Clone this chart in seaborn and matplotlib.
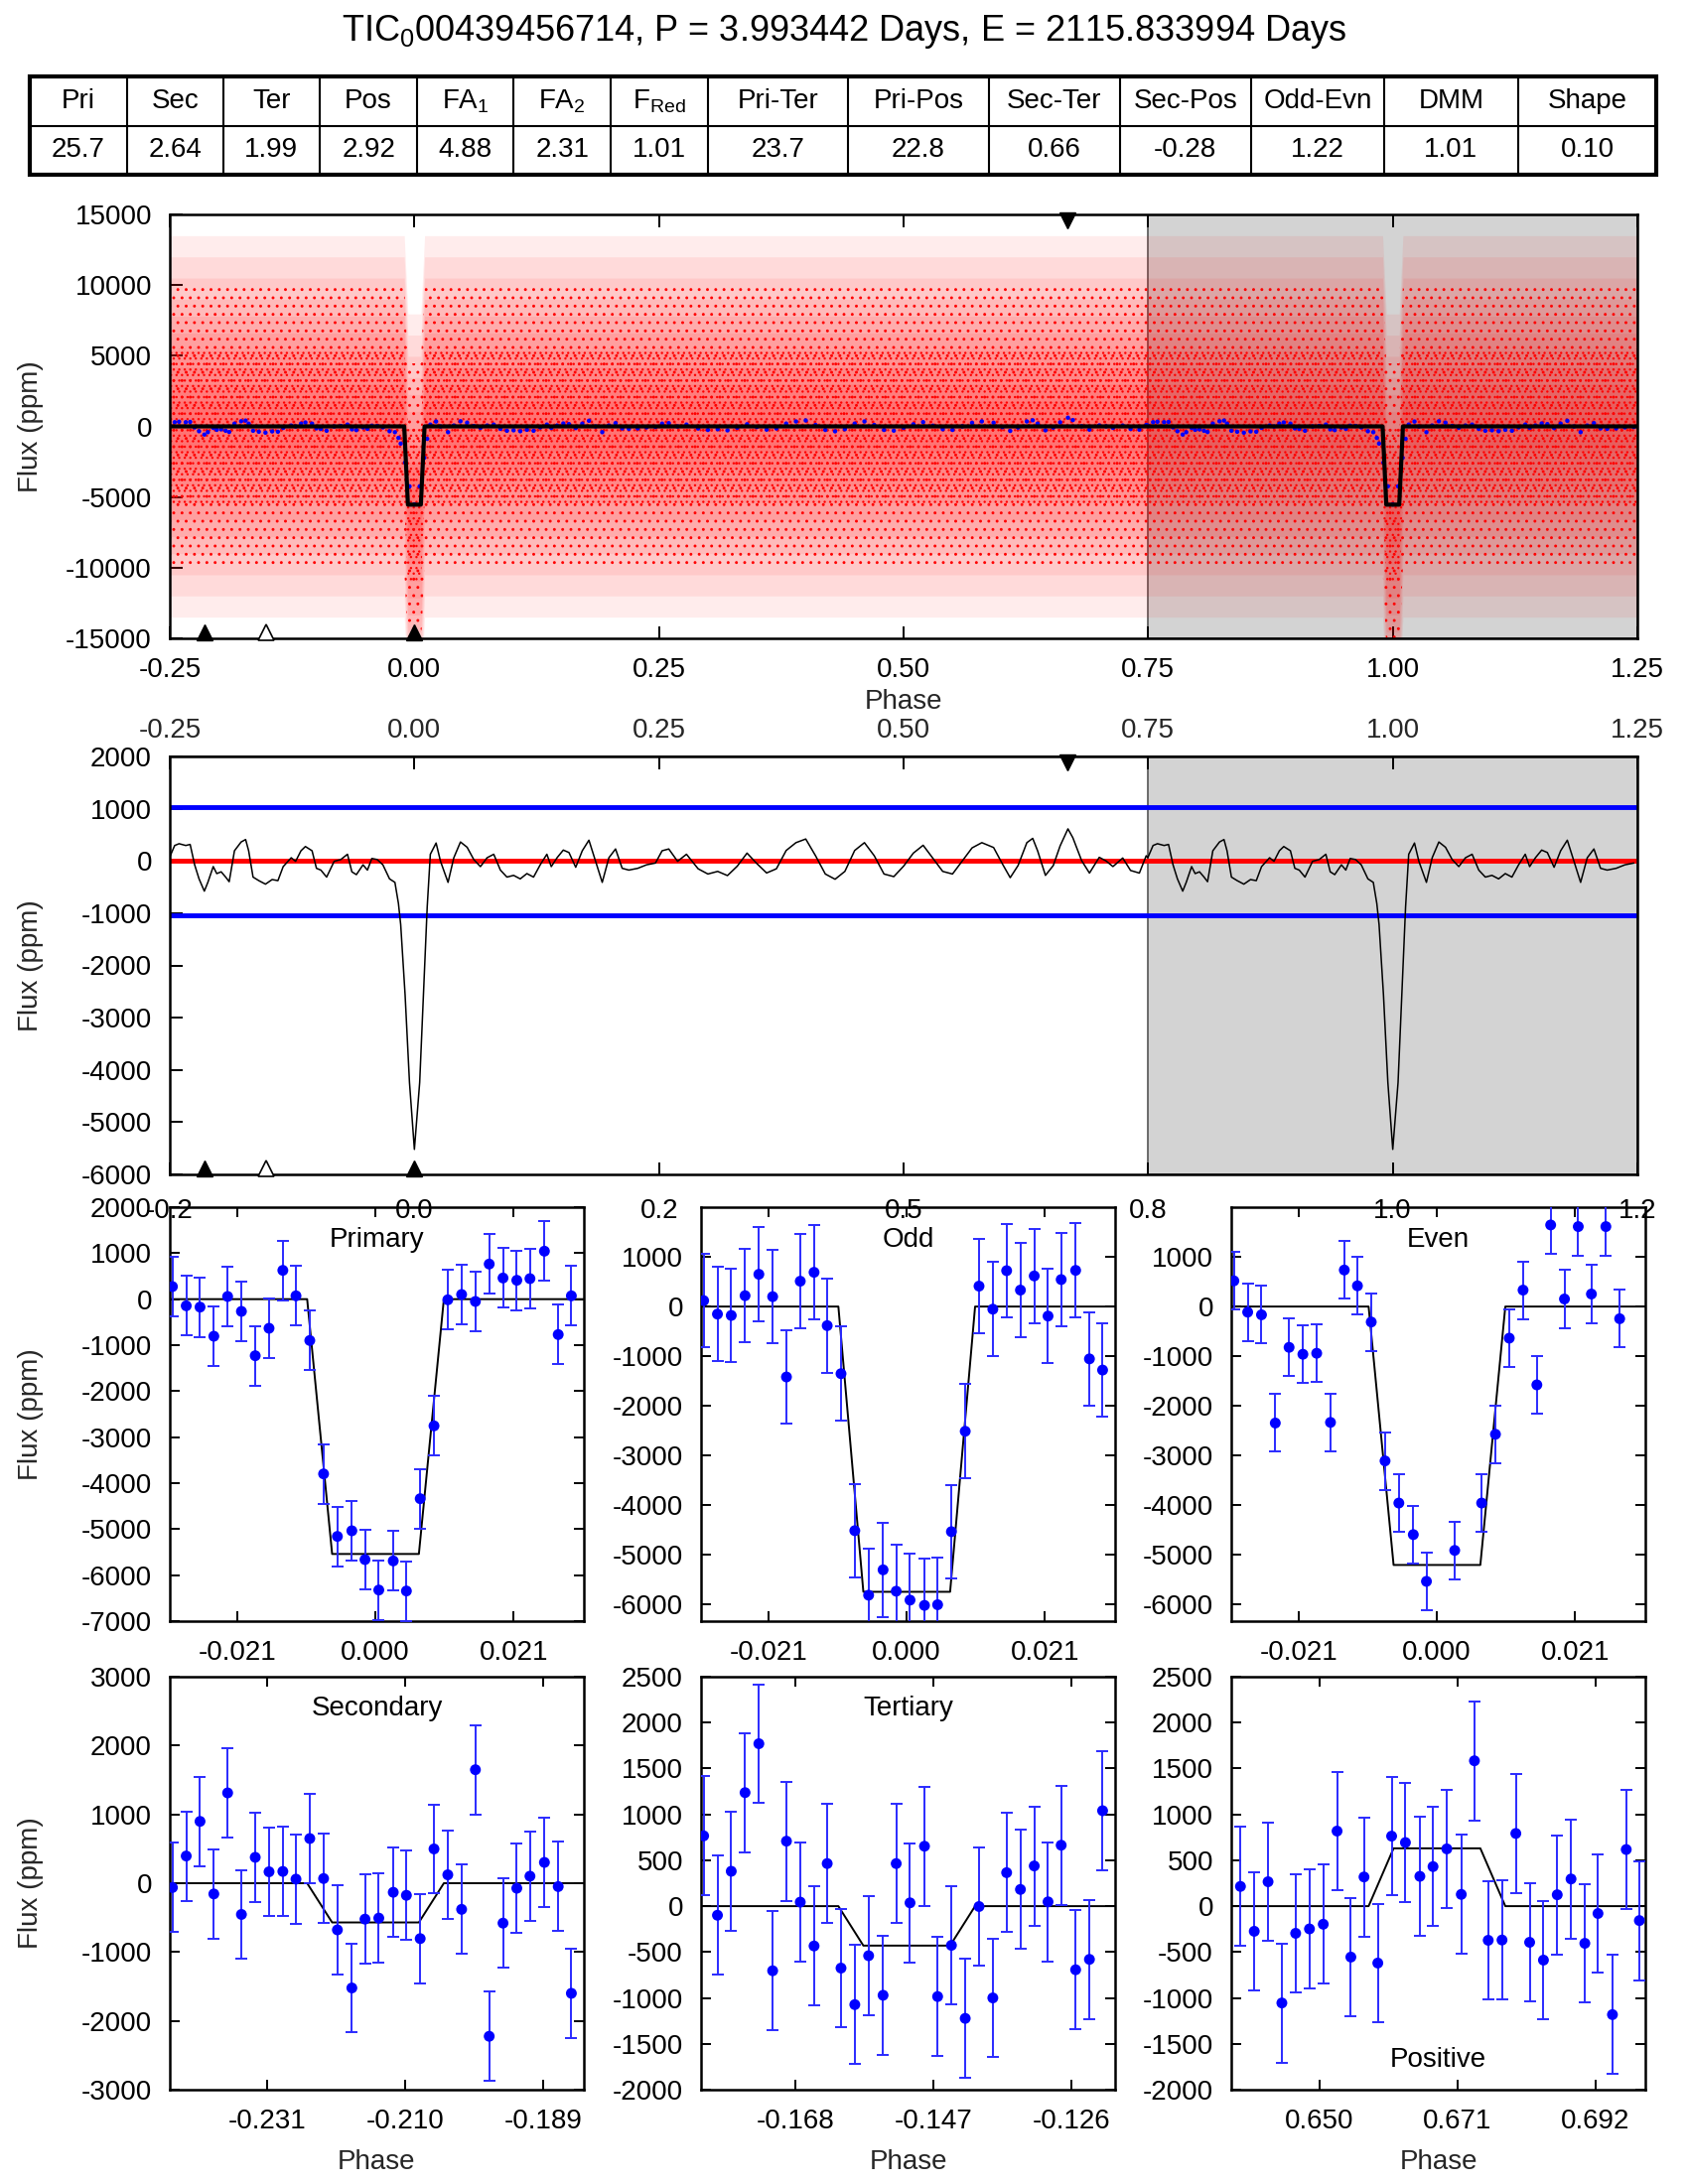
# %%
import numpy as np
import pandas as pd
import matplotlib
matplotlib.use("Agg")
import matplotlib.pyplot as plt
import seaborn as sns

# %%
# values
title = r"TIC$_0$00439456714, P = 3.993442 Days, E = 2115.833994 Days"

table_heads = ['Pri', 'Sec', 'Ter', 'Pos', 'FA$_1$', 'FA$_2$', 'F$_{Red}$', 'Pri-Ter', 'Pri-Pos',
               'Sec-Ter', 'Sec-Pos', 'Odd-Evn', 'DMM', 'Shape']
table_vals = ['25.7', '2.64', '1.99', '2.92', '4.88', '2.31', '1.01', '23.7', '22.8',
              '0.66', '-0.28', '1.22', '1.01', '0.10']

# event phases (triangle markers)
pri_phase = 0.0
sec_phase = -0.2145
ter_phase = -0.1511
pos_phase = 0.6679

# trapezoid model: ingress/egress phase offsets from event centre
model_edges = [-0.0104, -0.0066, 0.0066, 0.0104]
pri_depth = -5540
odd_depth = -5740
even_depth = -5200
sec_depth = -570
ter_depth = -430
pos_depth = 630

# smoothed flux curve (panel 2), phase -0.25 .. 0.75
curve_phase = [-0.2504, -0.2450, -0.2405, -0.2337, -0.2292, -0.2246, -0.2201, -0.2147, -0.2111, -0.2056,
               -0.2020, -0.1975, -0.1929, -0.1893, -0.1839, -0.1771, -0.1725, -0.1694, -0.1649, -0.1590,
               -0.1522, -0.1454, -0.1395, -0.1341, -0.1259, -0.1214, -0.1159, -0.1114, -0.1046, -0.1001,
               -0.0956, -0.0897, -0.0820, -0.0752, -0.0684, -0.0639, -0.0593, -0.0525, -0.0480, -0.0435,
               -0.0380, -0.0322, -0.0254, -0.0199, -0.0163, -0.0140, -0.0095, -0.0050, 0.0000, 0.0054,
               0.0100, 0.0131, 0.0163, 0.0222, 0.0267, 0.0344, 0.0403, 0.0471, 0.0539, 0.0607,
               0.0675, 0.0743, 0.0811, 0.0879, 0.0946, 0.1014, 0.1082, 0.1150, 0.1218, 0.1286,
               0.1354, 0.1399, 0.1458, 0.1522, 0.1580, 0.1649, 0.1716, 0.1784, 0.1852, 0.1920,
               0.1988, 0.2056, 0.2124, 0.2192, 0.2283, 0.2373, 0.2464, 0.2532, 0.2600, 0.2690,
               0.2781, 0.290, 0.300, 0.310, 0.320, 0.330, 0.340, 0.350, 0.360, 0.370,
               0.380, 0.390, 0.400, 0.410, 0.420, 0.430, 0.440, 0.450, 0.460, 0.470,
               0.480, 0.490, 0.500, 0.510, 0.520, 0.530, 0.540, 0.550, 0.560, 0.570,
               0.580, 0.592, 0.601, 0.609, 0.617, 0.626, 0.632, 0.637, 0.645, 0.653,
               0.660, 0.668, 0.673, 0.682, 0.690, 0.700, 0.707, 0.714, 0.724, 0.732,
               0.741, 0.748]
curve_flux = [61, 296, 330, 296, 316, -74, -343, -578, -410, -108,
              -242, -208, -309, -397, 195, 363, 410, 195, -309, -377,
              -444, -356, -377, -108, 61, -7, 195, 276, 195, -141,
              -175, -309, -7, 27, 128, -208, -262, -74, -175, 47,
              27, -74, -343, -410, -814, -1217, -2562, -4243, -5521, -4243,
              -2226, -881, 128, 343, -7, -410, 61, 363, 262, 27,
              -108, 61, 128, -175, -309, -276, -343, -242, -309, -74,
              128, -108, 61, 208, 161, -121, 195, 397, -7, -410,
              61, 229, -141, -175, -141, -74, -40, 195, 229, -7,
              128, -150, -250, -200, -280, -100, 150, -50, -230, -150,
              200, 350, 420, 100, -250, -350, -200, 200, 350, 100,
              -250, -300, -100, 150, 300, 50, -200, -250, 0, 250,
              350, 257, -56, -320, -88, 350, 432, 194, -276, -88,
              288, 614, 445, 6, -232, 69, 0, -107, 56, -182,
              -232, 100]
sigma_band = 1040  # blue lines in panel 2

# spread of the raw photometry cloud (panel 1): nested half widths in ppm
cloud_half = [13500, 12000, 10500, 9000, 7800, 6600, 5400, 4200, 3000, 1800]
cloud_alpha = 0.075
# speckle layers of the same cloud: (half width, hatch)
speckle = [(10000, '..'), (5500, '...')]

# binned points: phase offsets of the 30 bins from the window centre
bin_offset = [-0.0309, -0.0288, -0.0267, -0.0246, -0.0225, -0.0204, -0.0183, -0.0162, -0.0141, -0.0121,
              -0.0100, -0.0079, -0.0058, -0.0036, -0.0016, 0.0005, 0.0027, 0.0047, 0.0068, 0.0089,
              0.0110, 0.0131, 0.0152, 0.0173, 0.0194, 0.0215, 0.0235, 0.0257, 0.0278, 0.0298]
pos_bin_centre = 0.6689

pri_flux = [273, -144, -173, -806, 58, -266, -1230, -633, 626, 72,
            -899, -3799, -5158, -5036, -5662, -6324, -5691, -6345, -4338, -2755,
            -14, 101, -50, 763, 460, 410, 446, 1043, -770, 72]
odd_flux = [119, -152, -179, 219, 649, 199, -1417, 510, 689, -384,
            -1351, -4510, -5808, -5298, -5728, -5907, -6013, -6000, -4530, -2510,
            411, -53, 722, 331, 616, -192, 543, 728, -1053, -1278]
even_flux = [517, -113, -166, -2344, -821, -960, -940, -2331, 735, 417,
             -311, -3106, -3954, -4589, -5530, np.nan, -4907, np.nan, -3954, -2570,
             -636, 331, -1576, 1642, 152, 1609, 252, 1609, -245, np.nan]
sec_flux = [-63, 395, 898, -156, 1312, -454, 376, 166, 171, 59,
            649, 68, -678, -1522, -522, -507, -132, -176, -805, 498,
            122, -380, 1649, -2224, -580, -73, 102, 302, -49, -1600]
ter_flux = [766, -99, 380, 1237, 1770, -704, 708, 44, -434, 464,
            -675, -1073, -540, -971, 464, 36, 653, -985, -427, -1223,
            -4, -1000, 365, 182, 438, 47, 664, -693, -580, 1040]
pos_flux = [215, -274, 266, -1055, -296, -248, -197, 818, -555, 318,
            -620, 763, 693, 325, 431, 624, 128, 1584, -372, -369,
            792, -394, -588, 124, 296, -405, -80, -1182, 617, -157]
pri_err, odd_err, even_err = 645, 945, 580
sec_err, ter_err, pos_err = 648, 648, 648

# %%
sns.set_theme(style="ticks")
plt.rcParams['font.family'] = ['Liberation Sans', 'DejaVu Sans']
plt.rcParams['mathtext.fontset'] = 'custom'
plt.rcParams['mathtext.rm'] = 'Liberation Sans'
plt.rcParams['mathtext.it'] = 'Liberation Sans'
plt.rcParams['mathtext.default'] = 'regular'
plt.rcParams['axes.unicode_minus'] = False
plt.rcParams['axes.edgecolor'] = 'black'
plt.rcParams['text.color'] = 'black'
plt.rcParams['hatch.linewidth'] = 0.9

W, H = 1700, 2200
fig = plt.figure(figsize=(17, 22), dpi=100)


def frac(left, top, right, bottom):
    return [left / W, 1 - bottom / H, (right - left) / W, (bottom - top) / H]


def frame(ax, tl, pad_x=14, pad_y=13):
    for sp in ax.spines.values():
        sp.set_visible(True)
        sp.set_linewidth(1.8)
        sp.set_color('black')
    ax.tick_params(direction='in', length=tl, width=1.4, labelsize=20, colors='black')
    ax.tick_params(axis='x', pad=pad_x)
    ax.tick_params(axis='y', pad=pad_y)
    ax.grid(False)


def ylab(ax, width_px):
    ax.set_ylabel('Flux (ppm)', fontsize=20, va='center')
    ax.yaxis.set_label_coords(-140 / width_px, 0.5)


def events(ax):
    tr = ax.get_xaxis_transform()
    ax.plot([sec_phase, pri_phase], [0.015, 0.015], '^', color='black', ms=11, transform=tr, zorder=6, clip_on=False)
    ax.plot([ter_phase], [0.015], '^', mfc='white', mec='black', mew=1.2, ms=11, transform=tr, zorder=6, clip_on=False)
    ax.plot([pos_phase], [0.985], 'v', color='black', ms=11, transform=tr, zorder=6, clip_on=False)


fig.text(0.5, 1 - 32 / H, title, ha='center', va='center', fontsize=26)

# %%
# header table
col_w = [98, 96.5, 97.5, 98, 97, 98, 97.5, 141, 142, 132, 132, 134, 135, 139]
axt = fig.add_axes(frac(30, 77, 1668, 176))
axt.set_xlim(0, sum(col_w))
axt.set_ylim(0, 2)
axt.axis('off')
edges = np.r_[0, np.cumsum(col_w)]
for e in edges[1:-1]:
    axt.plot([e, e], [0, 2], color='black', lw=1.5)
axt.plot([0, edges[-1]], [1, 1], color='black', lw=1.5)
axt.add_patch(plt.Rectangle((0, 0), edges[-1], 2, fill=False, lw=3, ec='black', clip_on=False))
for i, (h, v) in enumerate(zip(table_heads, table_vals)):
    xc = (edges[i] + edges[i + 1]) / 2
    axt.text(xc, 1.5, h, ha='center', va='center', fontsize=20)
    axt.text(xc, 0.5, v, ha='center', va='center', fontsize=20)

# %%
# panel 1: full phase-folded light curve
cp = np.array(curve_phase)
cf = np.array(curve_flux)
wrap = cp < 0.25
curve = pd.DataFrame({'phase': np.r_[cp, cp[wrap] + 1], 'flux': np.r_[cf, cf[wrap]]})

me = np.array(model_edges)
full_model_x = np.r_[-0.25, pri_phase + me, pri_phase + 1 + me, 1.25]
full_model_y = np.array([0, 0, pri_depth, pri_depth, 0, 0, pri_depth, pri_depth, 0, 0])

ax1 = fig.add_axes(frac(171, 216, 1649, 643))
ax1.axvspan(0.75, 1.25, facecolor='#d3d3d3', edgecolor='#555555', lw=1.2, zorder=0)
for w in cloud_half:
    ax1.fill_between(full_model_x, full_model_y - w, full_model_y + w, facecolor='#ff0000',
                     alpha=cloud_alpha, linewidth=0, zorder=1)
for w, h in speckle:
    ax1.fill_between(full_model_x, full_model_y - w, full_model_y + w, facecolor='none',
                     edgecolor='#ff0000', hatch=h, linewidth=0, zorder=1)
sns.scatterplot(data=curve, x='phase', y='flux', ax=ax1, color='#0000ff', s=10, edgecolor='none', zorder=2)
sns.lineplot(x=full_model_x, y=full_model_y, ax=ax1, color='black', lw=3, estimator=None, sort=False, zorder=3)
ax1.set_xlim(-0.25, 1.25)
ax1.set_ylim(-15000, 15000)
ax1.set_xticks(np.arange(-0.25, 1.26, 0.25))
ax1.set_xticklabels([f'{t:.2f}' for t in np.arange(-0.25, 1.26, 0.25)])
ax1.set_yticks(np.arange(-15000, 15001, 5000))
frame(ax1, 9)
ax1.tick_params(top=True, right=False)
ax1.set_xlabel('Phase', fontsize=20, va='center')
ax1.xaxis.set_label_coords(0.5, -64 / 427)
ylab(ax1, 1478)
events(ax1)

# %%
# panel 2: smoothed curve
ax2 = fig.add_axes(frac(171, 762, 1649, 1183))
ax2.set_zorder(5)
ax2.axvspan(0.75, 1.25, facecolor='#d3d3d3', edgecolor='#555555', lw=1.2, zorder=0)
ax2.axhline(sigma_band, color='#0000ff', lw=3.5, zorder=1)
ax2.axhline(-sigma_band, color='#0000ff', lw=3.5, zorder=1)
ax2.axhline(0, color='#ff0000', lw=3.5, zorder=1)
sns.lineplot(data=curve, x='phase', y='flux', ax=ax2, color='black', lw=1.1, estimator=None, sort=True, zorder=2)
ax2.set_xlim(-0.25, 1.25)
ax2.set_ylim(-6000, 2000)
ticks2 = np.arange(-0.25, 1.26, 0.25)
ax2.set_xticks(ticks2)
ax2.set_xticklabels(['-0.2', '0.0', '0.2', '0.5', '0.8', '1.0', '1.2'])
ax2.set_yticks(np.arange(-6000, 2001, 1000))
frame(ax2, 9, pad_x=17)
ax2.tick_params(top=True, right=False)
sec_ax = ax2.secondary_xaxis('top')
sec_ax.set_xticks(ticks2)
sec_ax.set_xticklabels([f'{t:.2f}' for t in ticks2])
sec_ax.tick_params(direction='in', length=0, labelsize=20, pad=9.5)
ax2.set_xlabel('')
ylab(ax2, 1478)
events(ax2)

# %%
# binned panels
bo = np.array(bin_offset)
panels = [
    # name, window centre, points centre, flux, err, depth, ylim, yticks, xtick values, label y
    ('Primary', 0.0, 0.0, pri_flux, pri_err, pri_depth, (-7000, 2000), np.arange(-7000, 2001, 1000), [-0.021, 0.0, 0.021], 0.922),
    ('Odd', 0.0, 0.0, odd_flux, odd_err, odd_depth, (-6330, 2000), np.arange(-6000, 1001, 1000), [-0.021, 0.0, 0.021], 0.922),
    ('Even', 0.0, 0.0, even_flux, even_err, even_depth, (-6330, 2000), np.arange(-6000, 1001, 1000), [-0.021, 0.0, 0.021], 0.922),
    ('Secondary', sec_phase, sec_phase, sec_flux, sec_err, sec_depth, (-3000, 3000), np.arange(-3000, 3001, 1000), [-0.231, -0.210, -0.189], 0.922),
    ('Tertiary', ter_phase, ter_phase, ter_flux, ter_err, ter_depth, (-2000, 2500), np.arange(-2000, 2501, 500), [-0.168, -0.147, -0.126], 0.922),
    ('Positive', pos_phase, pos_bin_centre, pos_flux, pos_err, pos_depth, (-2000, 2500), np.arange(-2000, 2501, 500), [0.650, 0.671, 0.692], 0.072),
]
lefts = [171, 706, 1240]
rows = [(1216, 1633), (1689, 2105)]

for k, (name, cw, cpts, flux, err, depth, ylim, yt, xt, ly) in enumerate(panels):
    r, c = divmod(k, 3)
    top, bot = rows[r]
    ax = fig.add_axes(frac(lefts[c], top, lefts[c] + 417, bot))
    ax.patch.set_alpha(0)
    lo, hi = cw - 0.0313, cw + 0.0317
    df = pd.DataFrame({'phase': cpts + bo, 'flux': flux}).dropna()
    mx = np.r_[lo, cw + me, hi]
    my = np.array([0, 0, depth, depth, 0, 0])
    sns.lineplot(x=mx, y=my, ax=ax, color='black', lw=1.4, estimator=None, sort=False, zorder=2)
    ax.errorbar(df['phase'], df['flux'], yerr=err, fmt='none', ecolor='#2a2aff', elinewidth=1.4,
                capsize=4.5, capthick=1.4, zorder=3)
    sns.scatterplot(data=df, x='phase', y='flux', ax=ax, color='#0000ff', s=62, edgecolor='none', zorder=4)
    ax.set_xlim(lo, hi)
    ax.set_ylim(*ylim)
    ax.set_yticks(yt)
    ax.set_xticks(xt)
    ax.set_xticklabels([f'{t:.3f}' for t in xt])
    frame(ax, 7)
    ax.tick_params(top=True, right=True)
    ax.text(0.5, ly, name, transform=ax.transAxes, ha='center', va='center', fontsize=20)
    if c == 0:
        ylab(ax, 417)
    else:
        ax.set_ylabel('')
    if r == 1:
        ax.set_xlabel('Phase', fontsize=20, va='center')
        ax.xaxis.set_label_coords(0.5, -73 / 416)
    else:
        ax.set_xlabel('')

fig.savefig('out.png', dpi=100)
